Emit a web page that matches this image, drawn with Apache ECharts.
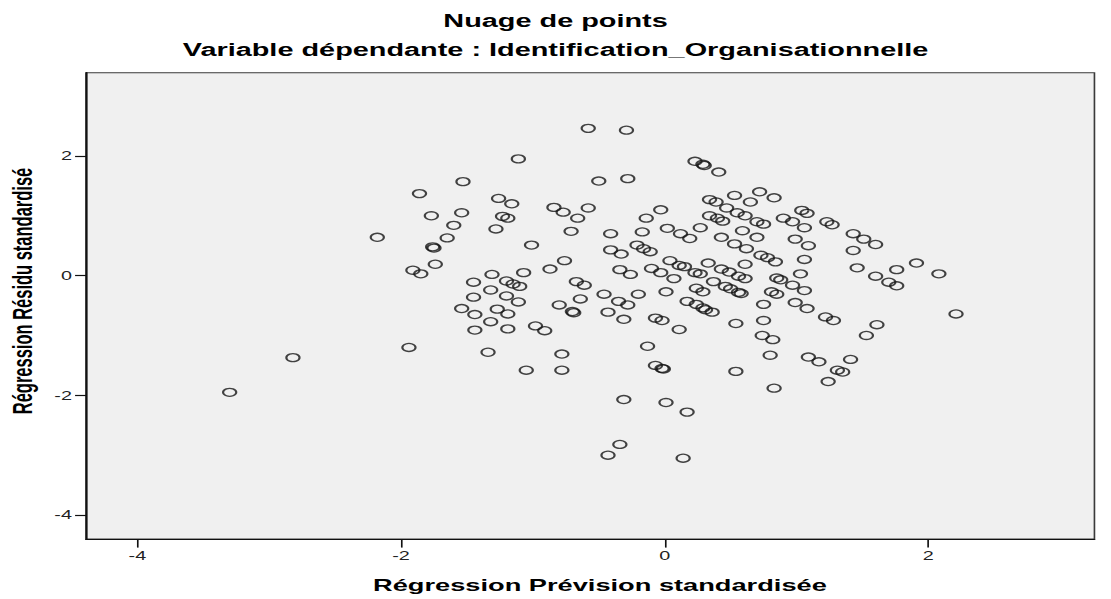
<!DOCTYPE html>
<html>
<head>
<meta charset="utf-8">
<script src="https://cdn.jsdelivr.net/npm/echarts@6/dist/echarts.min.js"></script>
<style>
html,body{margin:0;padding:0;background:#fff;overflow:hidden;}
#chart{width:673.33px;height:599px;transform:scaleX(1.65);transform-origin:0 0;}
</style>
</head>
<body>
<div id="chart"></div>
<script>
// Labels
const chartTitle = 'Nuage de points';
const chartSubtitle = 'Variable dépendante : Identification_Organisationnelle';
const xAxisTitle = 'Régression Prévision standardisée';
const yAxisTitle = 'Régression Résidu standardisé';

// Tick labels
const xTicks = [-4, -2, 0, 2];
const yTicks = [-4, -2, 0, 2];

// Data: standardized predicted value (x) and standardized residual (y)
const predicted = [
 -1.53,-1.86,-1.77,-1.54,-1.60,-1.65,-2.18,-1.76,-1.75,-1.74,-1.91,-1.85,-1.45,-1.45,-1.54,-1.44,-1.44,-1.94,-2.82,-3.30,
 -0.58,-0.29,-1.11,-0.50,-0.28,0.23,0.29,0.30,0.41,0.53,-1.26,-1.16,-1.23,-1.19,-1.28,-0.84,-0.77,-0.66,-0.58,-0.71,
 -1.01,-0.03,-0.14,-0.17,-0.41,0.02,0.12,0.19,0.27,0.34,0.39,0.47,0.34,0.40,0.44,0.43,0.53,-0.21,-0.16,-0.11,
 -0.41,-0.33,-0.76,-0.87,-1.07,-1.31,-1.20,-1.15,-1.10,-1.32,-1.20,-0.67,-0.61,-0.46,-0.34,-0.26,-0.10,-0.03,0.04,0.07,
 0.11,0.15,0.23,0.27,0.33,0.43,0.49,0.56,0.37,0.46,0.50,0.56,0.58,-0.20,0.01,0.24,0.29,
 -1.11,-1.27,-1.19,-1.32,-1.19,-0.98,-0.91,-1.34,-1.05,-0.78,-0.78,-0.80,-0.64,-0.70,-0.69,-0.35,-0.28,-0.43,-0.31,-0.07,
 -0.02,0.11,-0.13,-0.07,-0.02,-0.01,-0.31,0.01,0.17,-0.34,-0.43,0.14,0.17,0.24,0.29,0.31,0.36,0.54,0.54,
 0.72,0.83,0.65,0.55,0.61,0.59,0.62,0.70,0.75,0.70,0.90,0.97,1.04,1.08,1.06,0.99,1.09,1.23,1.27,1.43,
 1.51,1.60,1.43,1.46,1.60,1.76,1.91,2.08,1.70,1.76,0.73,0.78,0.84,1.06,0.61,0.61,0.85,0.88,0.97,1.03,
 1.06,0.81,0.85,
 2.21,1.61,1.53,1.22,1.28,1.08,0.99,0.75,0.75,0.74,0.82,0.80,1.09,1.17,1.41,1.31,1.35,1.24,0.83
];
const residual = [
 1.57,1.37,1.00,1.05,0.84,0.63,0.64,0.48,0.46,0.19,0.09,0.03,-0.11,-0.36,-0.55,-0.65,-0.91,-1.20,-1.37,-1.95,
 2.46,2.43,1.95,1.58,1.62,1.91,1.86,1.84,1.73,1.34,1.29,1.20,0.99,0.96,0.78,1.14,1.06,0.96,1.13,0.74,
 0.51,1.10,0.96,0.73,0.70,0.79,0.70,0.62,0.80,1.27,1.23,1.13,1.00,0.96,0.91,0.64,0.53,0.51,0.45,0.40,
 0.43,0.36,0.25,0.11,0.05,0.02,-0.09,-0.14,-0.18,-0.24,-0.34,-0.10,-0.16,-0.31,0.10,0.02,0.12,0.05,0.25,-0.05,
 0.17,0.15,0.05,0.03,0.21,0.11,0.06,-0.01,-0.10,-0.18,-0.22,-0.28,-0.30,-0.31,-0.27,-0.21,-0.27,
 -0.44,-0.56,-0.64,-0.77,-0.89,-0.84,-0.92,-1.28,-1.58,-1.31,-1.58,-0.49,-0.39,-0.60,-0.62,-0.43,-0.49,-0.61,-0.73,-0.71,
 -0.75,-0.90,-1.18,-1.50,-1.55,-1.56,-2.07,-2.12,-2.28,-2.82,-3.00,-3.05,-0.43,-0.48,-0.54,-0.57,-0.61,-0.80,-1.60,
 1.40,1.30,1.23,1.05,1.00,0.75,0.45,0.90,0.86,0.64,0.96,0.90,1.09,1.04,0.80,0.61,0.50,0.90,0.85,0.70,
 0.61,0.52,0.42,0.13,-0.01,0.10,0.21,0.03,-0.11,-0.17,0.34,0.30,0.23,0.27,0.19,-0.05,-0.04,-0.07,-0.16,0.03,
 -0.25,-0.27,-0.31,
 -0.64,-0.82,-1.00,-0.69,-0.75,-0.55,-0.45,-0.48,-0.75,-1.00,-1.07,-1.33,-1.36,-1.44,-1.40,-1.58,-1.61,-1.77,-1.88
];

const FONT = '"Liberation Sans", Arial, sans-serif';
const points = predicted.map((x, i) => [x, residual[i]]);

const chart = echarts.init(document.getElementById('chart'), null, {renderer: 'svg'});
chart.setOption({
  animation: false,
  backgroundColor: '#ffffff',
  grid: {
    left: 52.1, right: 9.7, top: 72.7, bottom: 60,
    show: true, backgroundColor: '#f0f0f0', borderColor: '#3a3a3a', borderWidth: 1
  },
  xAxis: {
    type: 'value', min: -4.39, max: 3.26,
    splitLine: {show: false},
    axisLine: {show: true, onZero: false, lineStyle: {color: '#111', width: 1.2}},
    axisTick: {show: true, length: 8.6, customValues: xTicks, lineStyle: {color: '#111', width: 1}},
    axisLabel: {customValues: xTicks, margin: 11, fontSize: 12, color: '#222', fontFamily: FONT}
  },
  yAxis: {
    type: 'value', min: -4.40, max: 3.39,
    splitLine: {show: false},
    axisLine: {show: true, onZero: false, lineStyle: {color: '#111', width: 1.2}},
    axisTick: {show: true, length: 6.6, customValues: yTicks, lineStyle: {color: '#111', width: 1.2}},
    axisLabel: {customValues: yTicks, margin: 8.5, fontSize: 12, color: '#222', fontFamily: FONT}
  },
  graphic: [
    {type: 'text', x: 336.7, y: 21, style: {text: chartTitle, fontSize: 17.5, fontWeight: 'bold', fontFamily: FONT, fill: '#000', align: 'center', verticalAlign: 'middle'}},
    {type: 'text', x: 336.7, y: 50, style: {text: chartSubtitle, fontSize: 17.5, fontWeight: 'bold', fontFamily: FONT, fill: '#000', align: 'center', verticalAlign: 'middle'}},
    {type: 'text', x: 363.6, y: 586, style: {text: xAxisTitle, fontSize: 16.5, fontWeight: 'bold', fontFamily: FONT, fill: '#000', align: 'center', verticalAlign: 'middle'}},
    {type: 'text', x: 14, y: 291, rotation: Math.PI / 2, style: {text: yAxisTitle, fontSize: 16.5, fontWeight: 'bold', fontFamily: FONT, fill: '#000', align: 'center', verticalAlign: 'middle'}}
  ],
  series: [{
    type: 'scatter',
    data: points,
    symbol: 'circle',
    symbolSize: 8,
    itemStyle: {color: 'rgba(0,0,0,0)', borderColor: '#151515', borderWidth: 1.3}
  }]
});
</script>
</body>
</html>
